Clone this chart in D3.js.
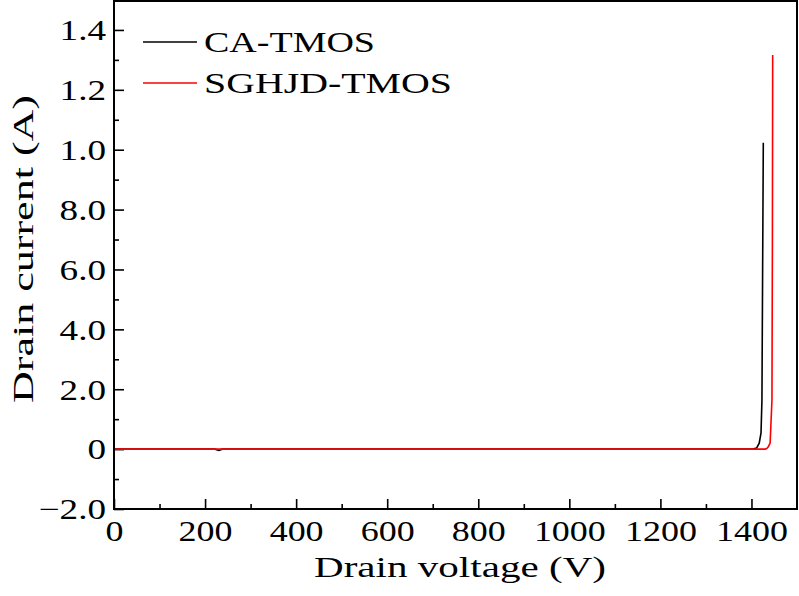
<!DOCTYPE html>
<html>
<head>
<meta charset="utf-8">
<script src="https://cdn.jsdelivr.net/npm/d3@7"></script>
<style>
  body { margin: 0; background: #fff; }
  svg { display: block; }
  text { font-family: "Liberation Serif", serif; fill: #000; }
</style>
</head>
<body>
<svg class="chart" width="799" height="596"></svg>
<script>
// drain voltage (V) / drain current
const caVoltage = [0, 100, 200, 222, 230, 238, 300, 500, 700, 900, 1100, 1300, 1403, 1411.5, 1417, 1421, 1423, 1424.5, 1426];
const caCurrent = [0, 0, 0, 0, -0.004, 0, 0, 0, 0, 0, 0, 0, 0, 0.004, 0.02, 0.054, 0.164, 0.6, 1.023];

const sgVoltage = [0, 200, 400, 600, 800, 1000, 1200, 1400, 1430, 1433.5, 1437, 1441, 1445, 1446, 1446.6];
const sgCurrent = [0, 0, 0, 0, 0, 0, 0, 0, 0, 0.002, 0.008, 0.02, 0.164, 0.7, 1.316];

const seriesNames = ["CA-TMOS", "SGHJD-TMOS"];
const seriesColors = ["#000000", "#ff0000"];

const xTicks = [0, 200, 400, 600, 800, 1000, 1200, 1400];
const xMinor = [100, 300, 500, 700, 900, 1100, 1300];
const yTicks = [-0.2, 0, 0.2, 0.4, 0.6, 0.8, 1.0, 1.2, 1.4];
const yTickLabels = ["\u22122.0", "0", "2.0", "4.0", "6.0", "8.0", "1.0", "1.2", "1.4"];
const yMinor = [-0.1, 0.1, 0.3, 0.5, 0.7, 0.9, 1.1, 1.3];

const svg = d3.select(".chart");
const width = 799;
const height = 596;
const margin = { top: 0, right: 2, bottom: 87, left: 114 };
const graphWidth = width - margin.left - margin.right;
const graphHeight = height - margin.top - margin.bottom;

// glyphs in the picture are wider than Liberation Serif, so stretch them a bit
const stretch = (sel, k) => {
  sel.each(function () {
    const w = this.getComputedTextLength();
    d3.select(this)
      .attr("textLength", w * k)
      .attr("lengthAdjust", "spacingAndGlyphs");
  });
};

const xScale = d3.scaleLinear().domain([0, 1500]).range([0, graphWidth]);
const yScale = d3.scaleLinear().domain([-0.2, 1.5]).range([graphHeight, 0]);

const graph = svg
  .append("g")
  .attr("transform", `translate(${margin.left}, ${margin.top})`);

// axes, ticks point inward
const xAxis = d3.axisBottom(xScale).tickValues(xTicks).tickFormat(d3.format("d")).tickSize(-10).tickPadding(11);
const xAxisMinor = d3.axisBottom(xScale).tickValues(xMinor).tickFormat("").tickSize(-5);
const yAxis = d3.axisLeft(yScale).tickValues(yTicks).tickFormat((d, i) => yTickLabels[i]).tickSize(-10).tickPadding(8);
const yAxisMinor = d3.axisLeft(yScale).tickValues(yMinor).tickFormat("").tickSize(-5);

const xAxisG = graph.append("g").attr("transform", `translate(0, ${graphHeight})`).call(xAxis);
graph.append("g").attr("transform", `translate(0, ${graphHeight})`).call(xAxisMinor);
const yAxisG = graph.append("g").call(yAxis);
graph.append("g").call(yAxisMinor);

graph.selectAll(".domain").remove();
graph.selectAll(".tick line").attr("stroke", "#000").attr("stroke-width", 1.6);

xAxisG.selectAll("text").style("font-size", "29px").attr("fill", "#000");
yAxisG.selectAll("text").style("font-size", "29px").attr("fill", "#000").attr("dy", "0.34em");
stretch(xAxisG.selectAll("text"), 1.24);
stretch(yAxisG.selectAll("text"), 1.28);

// curves
const line = d3.line()
  .x(d => xScale(d[0]))
  .y(d => yScale(d[1]));

const caData = caVoltage.map((v, i) => [v, caCurrent[i]]);
const sgData = sgVoltage.map((v, i) => [v, sgCurrent[i]]);

graph.append("path")
  .datum(caData)
  .attr("d", line)
  .attr("fill", "none")
  .attr("stroke", seriesColors[0])
  .attr("stroke-width", 1.6);

graph.append("path")
  .datum(sgData)
  .attr("d", line)
  .attr("fill", "none")
  .attr("stroke", seriesColors[1])
  .attr("stroke-width", 1.6);

// frame
graph.append("rect")
  .attr("x", 0)
  .attr("y", 1)
  .attr("width", graphWidth)
  .attr("height", graphHeight - 1)
  .attr("fill", "none")
  .attr("stroke", "#000")
  .attr("stroke-width", 2);

// legend
const legend = svg.append("g").attr("transform", "translate(143, 42)");
const legendLengths = [171, 248];

seriesNames.forEach((name, i) => {
  const row = legend.append("g").attr("transform", `translate(0, ${i * 41})`);
  row.append("line")
    .attr("x1", 0)
    .attr("x2", 54)
    .attr("y1", 0)
    .attr("y2", 0)
    .attr("stroke", seriesColors[i])
    .attr("stroke-width", 1.6);
  row.append("text")
    .attr("x", 61)
    .attr("y", 10)
    .style("font-size", "30px")
    .attr("textLength", legendLengths[i])
    .attr("lengthAdjust", "spacingAndGlyphs")
    .text(name);
});

// axis titles
svg.append("text")
  .attr("x", 460)
  .attr("y", 577)
  .attr("text-anchor", "middle")
  .style("font-size", "29px")
  .attr("textLength", 292)
  .attr("lengthAdjust", "spacingAndGlyphs")
  .text("Drain voltage (V)");

svg.append("text")
  .attr("transform", "translate(33, 249) rotate(-90)")
  .attr("text-anchor", "middle")
  .style("font-size", "29px")
  .attr("textLength", 308)
  .attr("lengthAdjust", "spacingAndGlyphs")
  .text("Drain current (A)");
</script>
</body>
</html>
